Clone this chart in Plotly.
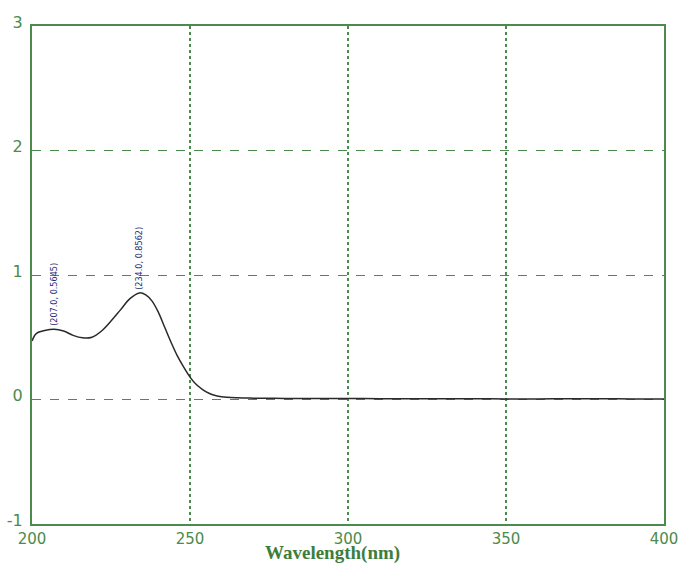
import plotly.graph_objects as go

wavelength = [200, 201, 202, 204, 207, 210, 213, 216, 219, 222, 225, 228, 231, 234,
              236, 238, 240, 242, 244, 246, 248, 250, 252, 254, 256, 258, 260,
              265, 270, 280, 290, 300, 310, 320, 330, 340, 350, 360, 370, 380, 390, 400]
absorbance = [0.47, 0.52, 0.54, 0.555, 0.5645, 0.55, 0.515, 0.495, 0.50, 0.55, 0.63, 0.72, 0.81, 0.8562,
              0.84, 0.79, 0.70, 0.58, 0.46, 0.35, 0.26, 0.18, 0.12, 0.08, 0.05, 0.032, 0.022,
              0.014, 0.011, 0.009, 0.008, 0.008, 0.007, 0.007, 0.006, 0.006, 0.005, 0.005, 0.006, 0.006, 0.005, 0.005]

peak_x = [207.0, 234.0]
peak_y = [0.5645, 0.8562]

x_ticks = [200, 250, 300, 350, 400]
y_ticks = [-1, 0, 1, 2, 3]
y_tick_text = ["-1", "0", "1", "2", "3"]

green = "#4b8b4b"

fig = go.Figure()
fig.add_trace(go.Scatter(x=wavelength, y=absorbance, mode="lines",
                         line=dict(color="#2a2a2a", width=1.5, shape="spline"),
                         showlegend=False, hoverinfo="skip"))

for px, py in zip(peak_x, peak_y):
    fig.add_annotation(x=px, y=py, text=f"({px:.1f}, {py:.4f})", showarrow=False,
                       textangle=-90, xanchor="center", yanchor="bottom", yshift=1,
                       font=dict(family="DejaVu Sans Condensed, sans-serif",
                                 size=9, color="#1c2a78"))

fig.add_annotation(xref="paper", yref="paper", x=0.476, y=-0.059,
                   text="<b>Wavelength(nm)</b>", showarrow=False,
                   xanchor="center", yanchor="middle",
                   font=dict(family="Liberation Serif, Times New Roman, serif", size=19, color="#3d7d3d"))

fig.update_layout(
    width=685, height=563,
    margin=dict(l=32, r=21, t=26, b=39),
    paper_bgcolor="white", plot_bgcolor="white",
    font=dict(family="DejaVu Sans, sans-serif", color=green),
)
fig.update_xaxes(range=[200, 400], tickvals=x_ticks, automargin=False,
                 showgrid=True, gridcolor=green, griddash="dot", gridwidth=1.5,
                 showline=True, linecolor=green, linewidth=2, mirror=True,
                 zeroline=False, ticks="", tickfont=dict(size=15, color=green))
fig.update_yaxes(range=[-1, 3], tickvals=y_ticks, ticktext=y_tick_text, automargin=False,
                 showgrid=True, gridcolor=green, griddash="dash", gridwidth=1,
                 showline=True, linecolor=green, linewidth=2, mirror=True,
                 zeroline=False, ticks="", tickfont=dict(size=16, color=green),
                 ticklabelshift=-4, ticklabelstandoff=4)

fig.write_html("out.html", config={"displayModeBar": False},
               post_script="document.body.style.margin='0';document.body.style.padding='0';")
